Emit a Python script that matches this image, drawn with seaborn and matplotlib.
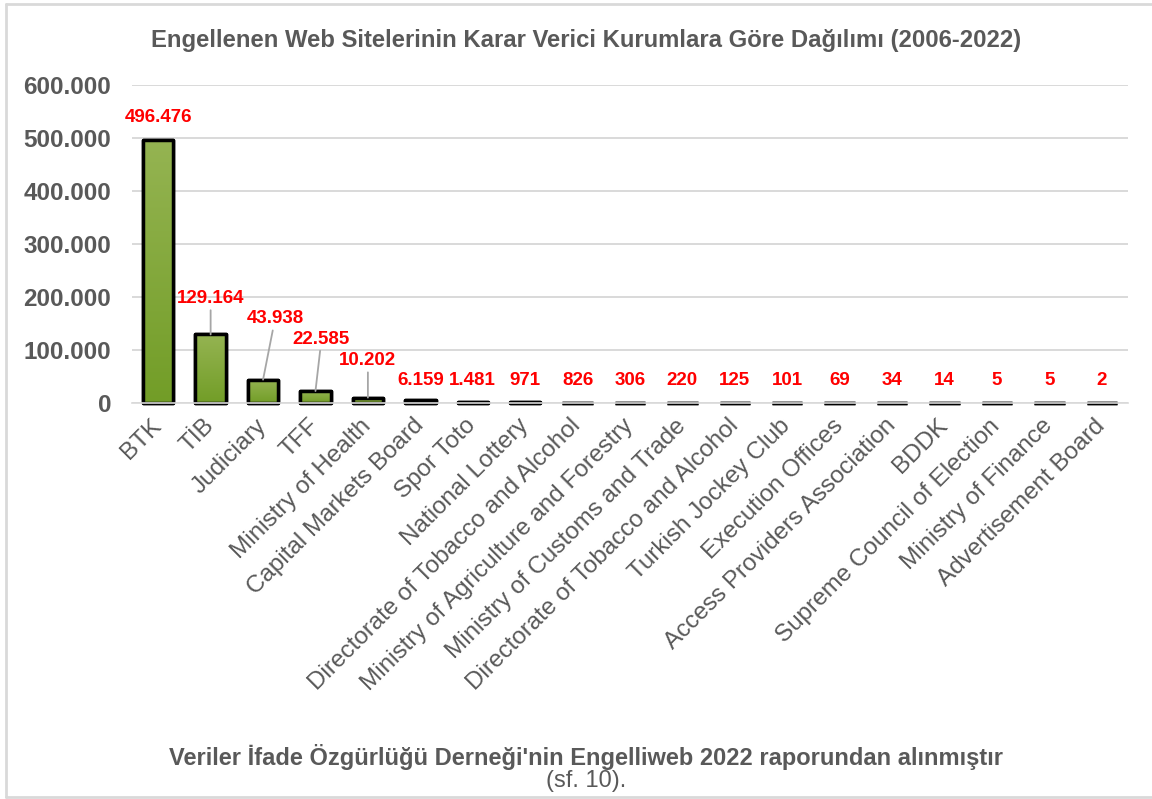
import matplotlib
matplotlib.use("Agg")
import matplotlib.pyplot as plt
import matplotlib.colors as mcolors
import numpy as np
import pandas as pd
import seaborn as sns
from matplotlib.lines import Line2D
from matplotlib.ticker import FuncFormatter

# data
institutions = [
    "BTK",
    "TİB",
    "Judiciary",
    "TFF",
    "Ministry of Health",
    "Capital Markets Board",
    "Spor Toto",
    "National Lottery",
    "Directorate of Tobacco and Alcohol",
    "Ministry of Agriculture and Forestry",
    "Ministry of Customs and Trade",
    "Directorate of Tobacco and Alcohol",
    "Turkish Jockey Club",
    "Execution Offices",
    "Access Providers Association",
    "BDDK",
    "Supreme Council of Election",
    "Ministry of Finance",
    "Advertisement Board",
]
blocked_sites = [496476, 129164, 43938, 22585, 10202, 6159, 1481, 971, 826,
                 306, 220, 125, 101, 69, 34, 14, 5, 5, 2]
y_ticks = [0, 100000, 200000, 300000, 400000, 500000, 600000]

TITLE = "Engellenen Web Sitelerinin Karar Verici Kurumlara Göre Dağılımı (2006-2022)"
SOURCE = "Veriler İfade Özgürlüğü Derneği'nin Engelliweb 2022 raporundan alınmıştır"
SOURCE_2 = "(sf. 10)."

GREY = "#595959"


def tr_thousands(v, _pos=None):
    """Turkish style thousands separator (dot)."""
    return f"{int(round(v)):,}".replace(",", ".")


def main():
    sns.set_theme(style="white")
    plt.rcParams["font.family"] = ["Liberation Sans", "DejaVu Sans"]

    df = pd.DataFrame({"pos": range(len(institutions)), "value": blocked_sites})

    fig = plt.figure(figsize=(11.52, 7.99), dpi=100)
    ax = fig.add_axes([132 / 1152, 1 - 403 / 799, 996 / 1152, (403 - 84.6) / 799])

    sns.barplot(data=df, x="pos", y="value", ax=ax, width=0.58,
                color="#85a838", saturation=1, edgecolor="black",
                linewidth=2.5, zorder=2)

    # vertical gradient inside each bar (Excel-like)
    cmap = mcolors.LinearSegmentedColormap.from_list("g", ["#729d27", "#95b452"])
    grad = np.linspace(0, 1, 256).reshape(-1, 1)
    for p in list(ax.patches):
        p.set_joinstyle("round")
        p.set_clip_on(False)
        x0, w, h = p.get_x(), p.get_width(), p.get_height()
        if h > 0:
            im = ax.imshow(grad, cmap=cmap, origin="lower", aspect="auto",
                           extent=(x0, x0 + w, 0, h), zorder=2.1)
            im.set_clip_path(p)
        edge = plt.Rectangle((x0, 0), w, h, fill=False, edgecolor="black",
                             linewidth=2.5, joinstyle="round", zorder=2.2,
                             clip_on=False)
        ax.add_patch(edge)

    ax.set_xlim(-0.5, len(institutions) - 0.5)
    ax.set_ylim(0, 600000)
    ax.set_yticks(y_ticks)
    ax.yaxis.set_major_formatter(FuncFormatter(tr_thousands))
    ax.set_xticks(range(len(institutions)))
    ax.set_xticklabels(institutions, rotation=45, ha="right", va="center",
                       rotation_mode="anchor")
    ax.set_xlabel("")
    ax.set_ylabel("")

    ax.yaxis.grid(True, color="#d9d9d9", linewidth=1.4)
    ax.set_axisbelow(True)
    for side in ["left", "right", "top"]:
        ax.spines[side].set_visible(False)
    ax.spines["bottom"].set_color("#d9d9d9")
    ax.spines["bottom"].set_linewidth(1.2)
    ax.spines["bottom"].set_zorder(3)

    ax.tick_params(axis="both", length=0)
    ax.tick_params(axis="y", pad=15, labelsize=17.5, labelcolor=GREY)
    ax.tick_params(axis="x", pad=14, labelsize=17.5, labelcolor=GREY)
    for t in ax.get_yticklabels():
        t.set_fontweight("bold")

    # data labels; a few are lifted with a grey leader line
    lifted = {1: (0, 36), 2: (12, 61), 3: (6, 52), 4: (0, 37), 5: (0, 19)}
    for i, v in enumerate(blocked_sites):
        dx, dy = lifted.get(i, (0, 22))
        props = None
        if i in (1, 2, 3, 4):
            props = dict(arrowstyle="-", color="#a6a6a6", linewidth=1.3,
                         shrinkA=0, shrinkB=0)
        ax.annotate(tr_thousands(v), xy=(i, v), xytext=(dx, dy),
                    textcoords="offset pixels", ha="center", va="center",
                    fontsize=13.5, fontweight="bold", color="#ff0000",
                    arrowprops=props, zorder=4)

    fig.text(0.509, 1 - 41 / 799, TITLE, ha="center", va="center",
             fontsize=17.2, fontweight="bold", color=GREY)
    fig.text(0.509, 1 - 757 / 799, SOURCE, ha="center", va="center",
             fontsize=17, fontweight="bold", color=GREY)
    fig.text(0.509, 1 - 781 / 799, SOURCE_2, ha="center", va="center",
             fontsize=17, color=GREY)

    # light frame around the chart area
    frame = dict(color="#d9d9d9", linewidth=2, transform=fig.transFigure)
    fig.add_artist(Line2D([6 / 1152, 1], [1 - 4 / 799] * 2, **frame))
    fig.add_artist(Line2D([6 / 1152] * 2, [1 - 4 / 799, 1 - 797 / 799], **frame))
    fig.add_artist(Line2D([6 / 1152, 1], [1 - 797 / 799] * 2, **frame))

    fig.savefig("out.png", dpi=100)
    plt.close(fig)


if __name__ == "__main__":
    main()
